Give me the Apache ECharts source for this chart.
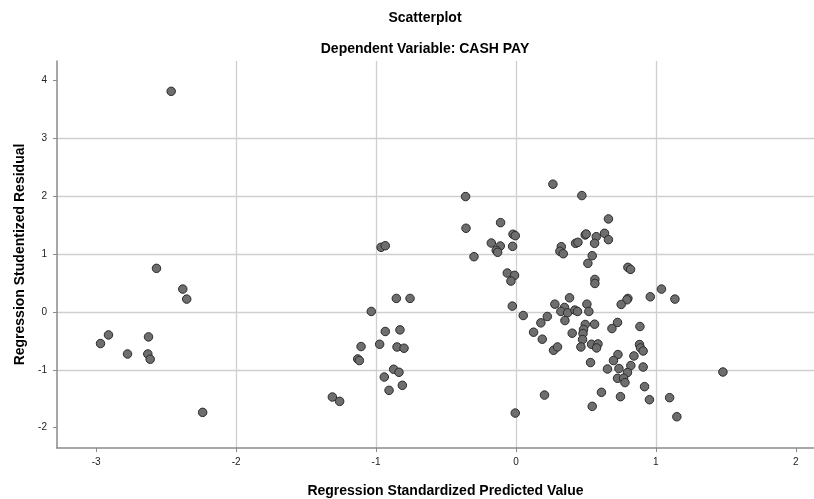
<!DOCTYPE html>
<html>
<head>
    <meta charset="UTF-8">
    <title>Scatterplot</title>
    <script src="https://cdn.jsdelivr.net/npm/echarts@6/dist/echarts.min.js"></script>
    <style>
        html, body { margin: 0; padding: 0; background: #fff; }
        #chart { width: 814px; height: 499px; }
    </style>
</head>
<body>
<div id="chart"></div>
<script>
    // 标准化预测值 (x) 与 学生化残差 (y)
    var predicted = [
        -2.464, -2.569, -2.381, -2.353, -2.912, -2.969, -2.626, -2.776, -2.631, -2.614,
        -2.239, -1.312, -1.26, 0.264, -0.36, -0.357, -0.11, -0.021, -0.005, -0.176,
        -0.112, -0.141, -0.131, -0.024, -0.3, -0.062, -0.01, -0.036, -0.026, 0.052,
        0.224, 0.178, 0.126, 0.188, 0.278, 0.269, 0.204, -0.005, -0.964, -0.934,
        -0.855, -0.757, -1.034, -0.934, -0.829, -1.107, -0.974, -0.85, -0.8, -1.131,
        -1.119, -0.874, -0.836, -0.941, -0.812, -0.907, 0.471, 0.661, 0.495, 0.502,
        0.574, 0.633, 0.661, 0.562, 0.426, 0.443, 0.324, 0.314, 0.338, 0.545,
        0.514, 0.8, 0.819, 0.564, 0.564, 0.383, 0.8, 0.793, 0.752, 0.96,
        0.347, 0.507, 0.321, 0.369, 0.421, 0.44, 0.521, 0.35, 0.726, 0.495,
        0.562, 0.483, 0.479, 0.476, 0.464, 0.402, 0.297, 0.54, 0.586, 0.576,
        0.686, 0.886, 0.883, 0.89, 0.909, 0.843, 0.729, 0.697, 0.533, 0.654,
        0.736, 0.821, 0.797, 0.909, 0.726, 0.769, 0.779, 0.919, 0.611, 0.747,
        0.545, 0.954, 1.04, 1.136, 1.098, 1.15, 1.479
    ];
    var residual = [
        3.806, 0.751, 0.393, 0.22, -0.398, -0.547, -0.432, -0.727, -0.727, -0.818,
        -1.735, -1.47, -1.545, 2.204, 1.99, 1.443, 1.54, 1.339, 1.315, 1.188,
        1.137, 1.062, 1.028, 1.131, 0.952, 0.67, 0.63, 0.531, 0.099, -0.063,
        -0.08, -0.19, -0.351, -0.472, 0.133, -0.663, -1.436, -1.747, 1.114, 1.142,
        0.232, 0.232, 0.007, -0.339, -0.311, -0.599, -0.559, -0.606, -0.628, -0.813,
        -0.841, -0.991, -1.043, -1.125, -1.268, -1.355, 2.007, 1.604, 1.327, 1.344,
        1.298, 1.356, 1.246, 1.183, 1.183, 1.2, 1.125, 1.045, 1.003, 0.969,
        0.837, 0.768, 0.733, 0.56, 0.49, 0.242, 0.232, 0.208, 0.128, 0.26,
        0.076, 0.133, 0.007, -0.017, 0.03, 0.007, 0.007, -0.15, -0.183, -0.218,
        -0.213, -0.304, -0.374, -0.478, -0.606, -0.368, -0.606, -0.559, -0.554, -0.623,
        -0.288, -0.253, -0.564, -0.623, -0.675, -0.761, -0.737, -0.841, -0.875, -0.986,
        -0.979, -0.927, -1.048, -0.952, -1.147, -1.147, -1.221, -1.291, -1.389, -1.464,
        -1.631, -1.516, 0.393, 0.22, -1.481, -1.81, -1.038
    ];
    var xTicks = [-3, -2, -1, 0, 1, 2];
    var yTicks = [-2, -1, 0, 1, 2, 3, 4];

    var points = [];
    for (var i = 0; i < predicted.length; i++) {
        points.push([predicted[i], residual[i]]);
    }

    var font = '"Liberation Sans", Arial, sans-serif';
    var myChart = echarts.init(document.getElementById('chart'));

    var option = {
        animation: false,
        title: [
            {
                text: 'Scatterplot',
                left: 420, top: 6, textAlign: 'center',
                textStyle: { fontFamily: font, fontSize: 14, fontWeight: 'bold', color: '#000' }
            },
            {
                text: 'Dependent Variable: CASH PAY',
                left: 420, top: 37, textAlign: 'center',
                textStyle: { fontFamily: font, fontSize: 14, fontWeight: 'bold', color: '#000' }
            }
        ],
        grid: { left: 57, right: 0, top: 61, bottom: 51, outerBoundsMode: 'none', containLabel: false },
        xAxis: {
            type: 'value',
            min: -3.28, max: 2.13,
            minInterval: 1, maxInterval: 1,
            name: 'Regression Standardized Predicted Value',
            nameLocation: 'middle',
            nameGap: 36,
            nameTextStyle: { fontFamily: font, fontSize: 14, fontWeight: 'bold', color: '#000', padding: [0, 0, 0, 20] },
            axisLine: { show: true, onZero: false, lineStyle: { color: '#8a8a8a', width: 1.5 } },
            axisTick: { show: true, length: 4, customValues: xTicks, lineStyle: { color: '#8a8a8a' } },
            axisLabel: { customValues: xTicks, margin: 9, fontFamily: font, fontSize: 10, color: '#222' },
            splitLine: { show: true, showMinLine: false, showMaxLine: false, lineStyle: { color: '#cfcfcf', width: 1.3 } }
        },
        yAxis: {
            type: 'value',
            min: -2.35, max: 4.33,
            minInterval: 1, maxInterval: 1,
            name: 'Regression Studentized Residual',
            nameLocation: 'middle',
            nameGap: 30,
            nameTextStyle: { fontFamily: font, fontSize: 14, fontWeight: 'bold', color: '#000' },
            axisLine: { show: true, onZero: false, lineStyle: { color: '#8a8a8a', width: 1.5 } },
            axisTick: { show: true, length: 4, customValues: yTicks, lineStyle: { color: '#8a8a8a' } },
            axisLabel: { customValues: yTicks, margin: 10, fontFamily: font, fontSize: 10, color: '#222' },
            splitLine: { show: true, showMinLine: false, showMaxLine: false, lineStyle: { color: '#cfcfcf', width: 1.3 } }
        },
        series: [{
            type: 'scatter',
            data: points,
            symbol: 'circle',
            symbolSize: 8.5,
            itemStyle: { color: '#6e6e6e', borderColor: '#2a2a2a', borderWidth: 1, opacity: 1 }
        }]
    };

    myChart.setOption(option);
</script>
</body>
</html>
